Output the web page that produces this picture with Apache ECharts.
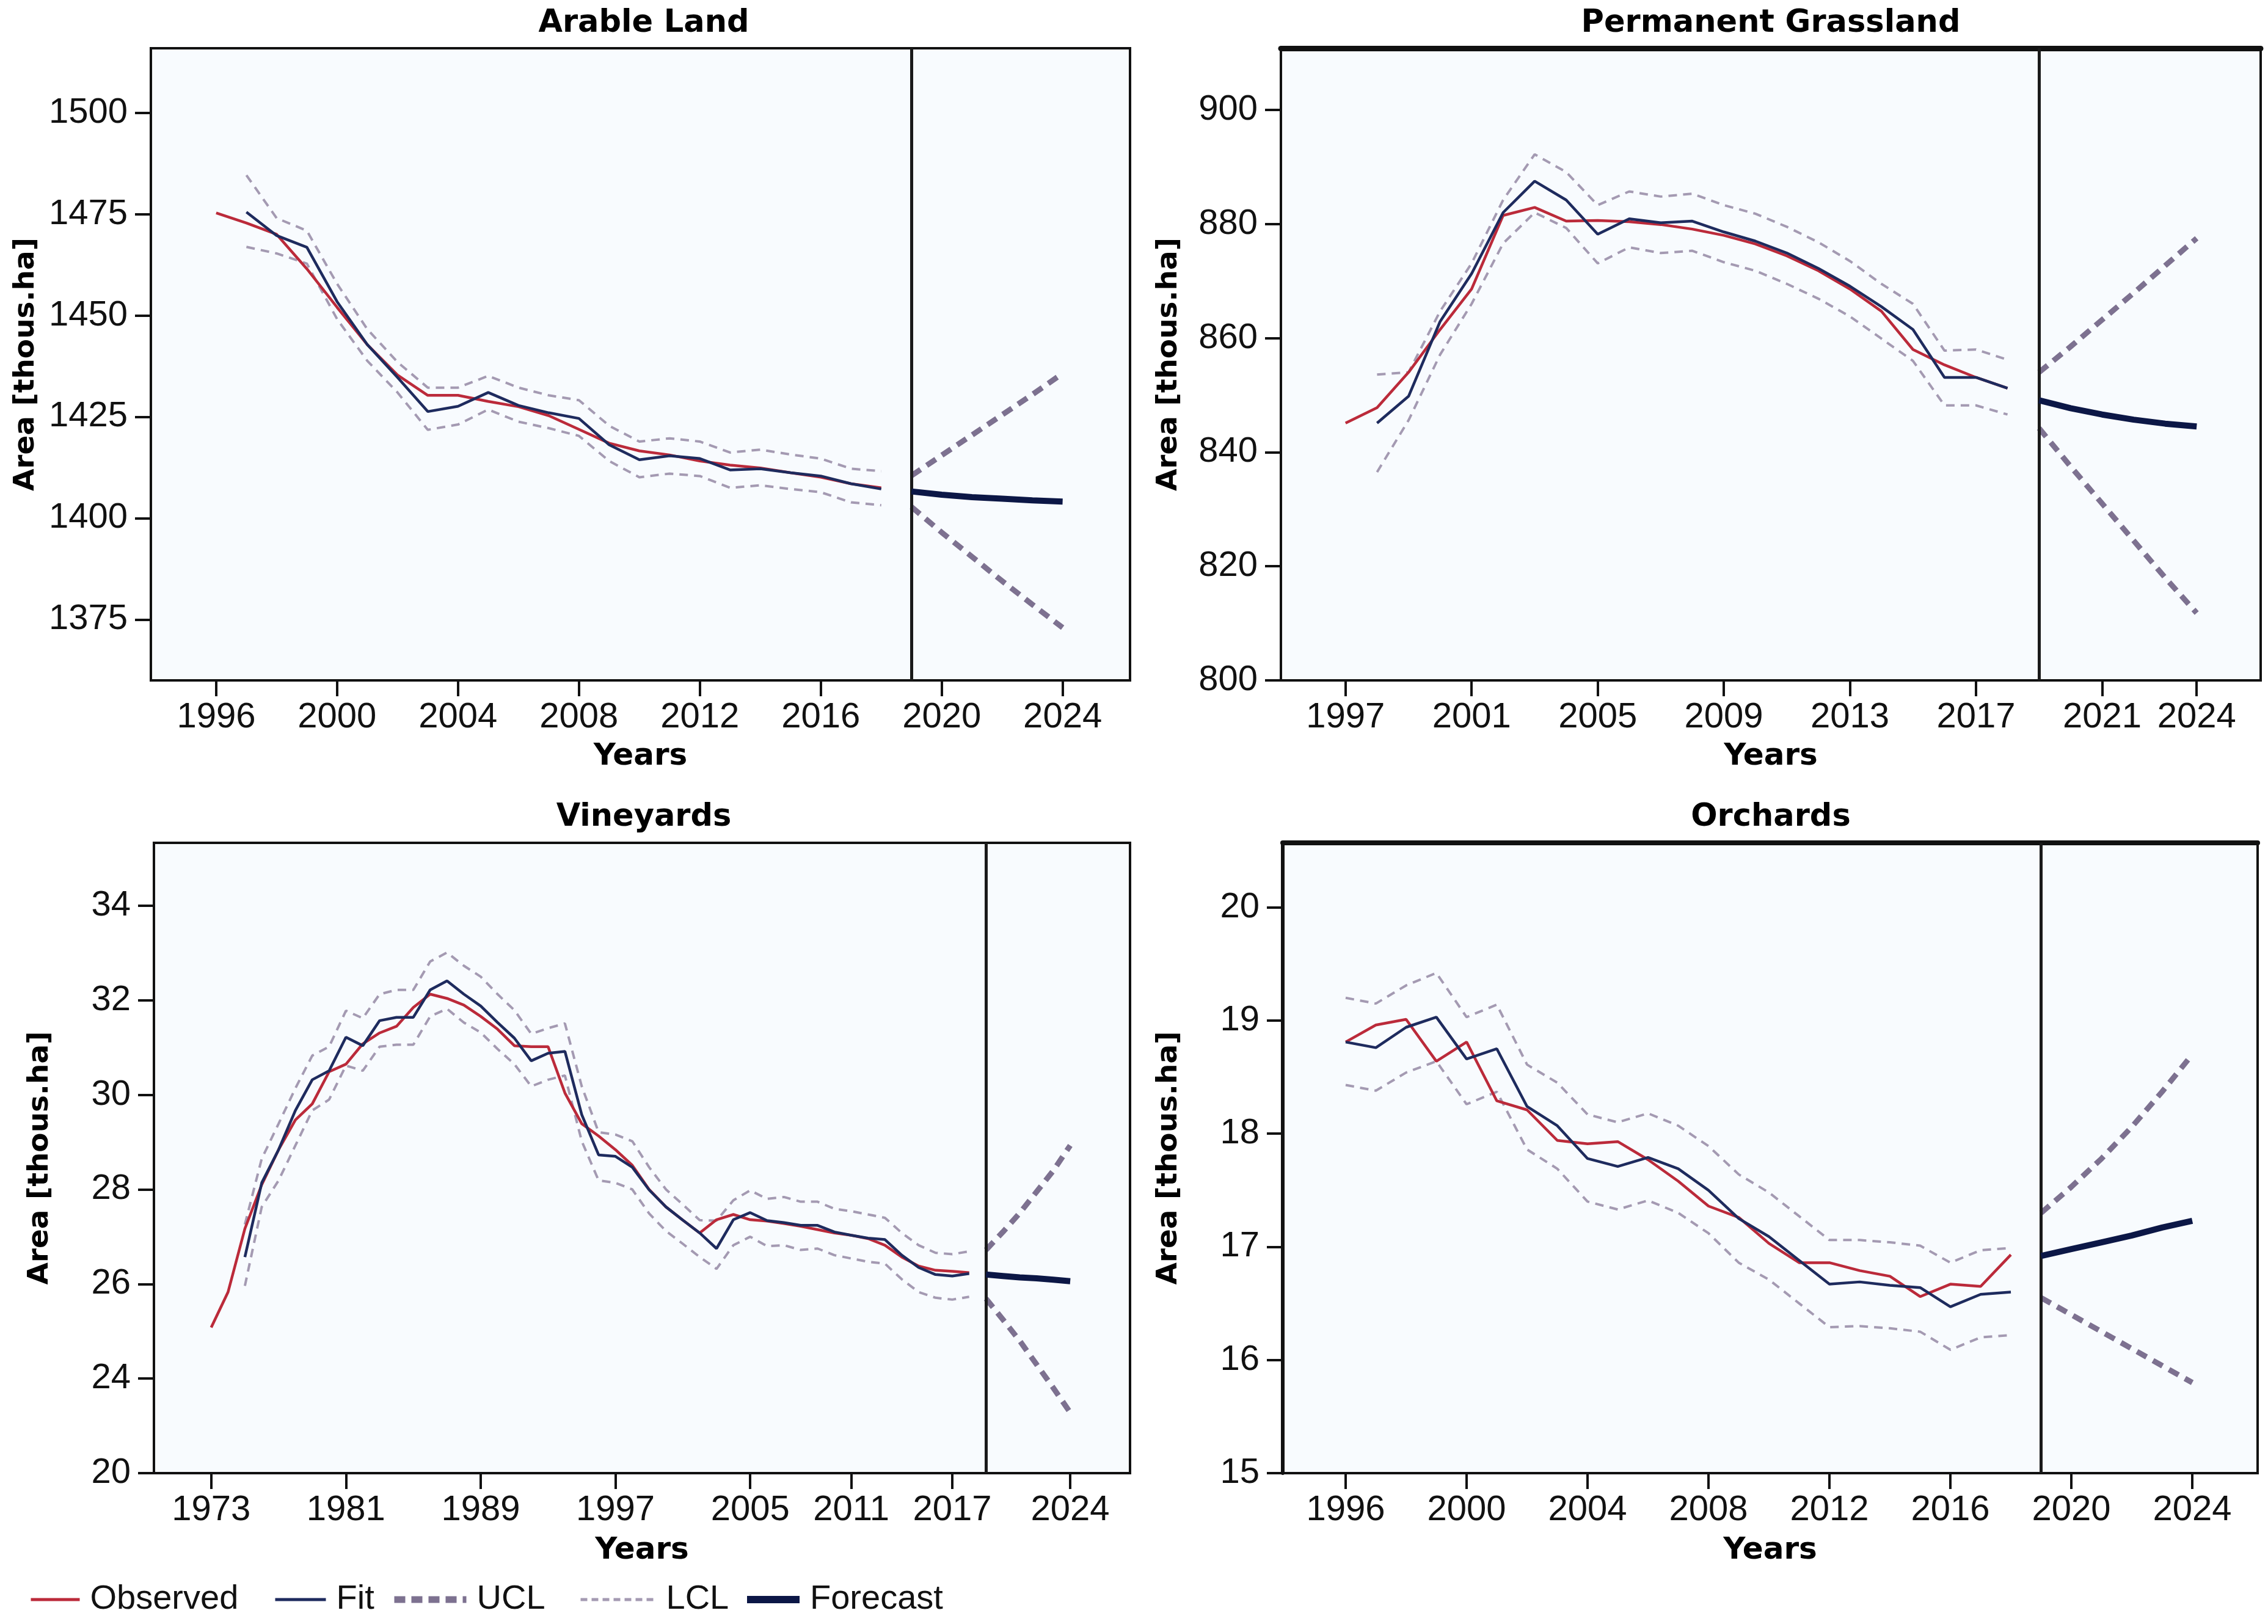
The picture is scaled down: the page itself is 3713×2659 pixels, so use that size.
<!DOCTYPE html>
<html>
<head>
<meta charset="utf-8">
<script src="https://cdn.jsdelivr.net/npm/echarts@6/dist/echarts.min.js"></script>
<style>
html,body{margin:0;padding:0;background:#ffffff;}
#chart{width:3713px;height:2659px;}
</style>
</head>
<body>
<div id="chart"></div>
<script>
// ---------------- DATA ----------------
const forecastYears = [2019, 2020, 2021, 2022, 2023, 2024];
const forecastBoundary = 2019;

// Arable Land
const arableObsStart = 1996;
const arableObserved = [1475.3, 1472.8, 1470.0, 1461.5, 1452.0, 1442.8, 1435.3, 1430.3, 1430.3, 1428.8, 1427.5, 1425.3, 1421.9, 1418.5, 1416.6, 1415.6, 1414.1, 1413.1, 1412.4, 1411.2, 1410.1, 1408.5, 1407.5];
const arableFitStart = 1997;
const arableFit = [1475.5, 1469.7, 1466.8, 1453.4, 1442.8, 1434.7, 1426.3, 1427.6, 1431.0, 1427.8, 1426.0, 1424.6, 1418.1, 1414.4, 1415.4, 1414.7, 1411.9, 1412.2, 1411.2, 1410.4, 1408.5, 1407.2];
const arableUcl = [1484.6, 1474.0, 1470.9, 1457.8, 1446.6, 1438.5, 1432.2, 1432.2, 1435.1, 1432.2, 1430.3, 1429.1, 1422.8, 1418.9, 1419.7, 1418.9, 1416.2, 1416.9, 1415.7, 1414.7, 1412.2, 1411.6];
const arableLcl = [1466.9, 1465.3, 1462.8, 1449.1, 1438.8, 1431.0, 1421.8, 1423.1, 1426.8, 1423.8, 1422.2, 1420.3, 1414.1, 1410.1, 1411.0, 1410.4, 1407.5, 1408.1, 1407.2, 1406.4, 1403.9, 1403.2];
const arableForecast = [1406.6, 1405.8, 1405.2, 1404.8, 1404.4, 1404.1];
const arableForecastUcl = [1410.5, 1415.5, 1420.5, 1425.5, 1430.5, 1435.7];
const arableForecastLcl = [1402.8, 1396.5, 1390.5, 1384.5, 1378.7, 1373.0];
const arableXTicks = [1996, 2000, 2004, 2008, 2012, 2016, 2020, 2024];
const arableYTicks = [1375, 1400, 1425, 1450, 1475, 1500];

// Permanent Grassland
const grassObsStart = 1997;
const grassObserved = [845.1, 847.8, 854.0, 861.5, 868.6, 881.5, 882.9, 880.5, 880.6, 880.4, 879.9, 879.1, 878.0, 876.5, 874.4, 871.8, 868.6, 864.7, 858.0, 855.3, 853.1, 851.2];
const grassFitStart = 1998;
const grassFit = [845.1, 849.8, 862.9, 871.3, 882.0, 887.5, 884.2, 878.2, 880.9, 880.2, 880.5, 878.6, 877.0, 874.9, 872.2, 869.1, 865.5, 861.5, 853.1, 853.1, 851.2];
const grassUcl = [853.6, 854.0, 864.7, 873.1, 884.2, 892.2, 889.1, 883.3, 885.7, 884.8, 885.3, 883.3, 881.8, 879.5, 876.8, 873.5, 869.5, 866.0, 857.8, 858.0, 856.2];
const grassLcl = [836.5, 845.6, 857.1, 866.0, 876.6, 882.0, 879.3, 873.1, 875.9, 874.9, 875.3, 873.3, 871.8, 869.5, 866.9, 863.8, 859.9, 856.0, 848.2, 848.2, 846.6];
const grassForecast = [849.1, 847.7, 846.6, 845.7, 845.0, 844.5];
const grassForecastUcl = [854.0, 858.5, 863.2, 867.9, 872.7, 877.5];
const grassForecastLcl = [844.2, 837.5, 831.0, 824.5, 818.0, 811.8];
const grassXTicks = [1997, 2001, 2005, 2009, 2013, 2017, 2021, 2024];
const grassYTicks = [800, 820, 840, 860, 880, 900];

// Vineyards
const vineObsStart = 1973;
const vineObserved = [25.08, 25.83, 27.17, 28.10, 28.84, 29.47, 29.81, 30.49, 30.65, 31.08, 31.31, 31.45, 31.85, 32.13, 32.04, 31.90, 31.66, 31.39, 31.04, 31.02, 31.02, 30.04, 29.39, 29.13, 28.84, 28.51, 28.00, 27.63, 27.35, 27.08, 27.36, 27.47, 27.36, 27.33, 27.28, 27.22, 27.15, 27.08, 27.03, 26.96, 26.82, 26.57, 26.38, 26.29, 26.27, 26.24];
const vineFitStart = 1975;
const vineFit = [26.57, 28.14, 28.84, 29.67, 30.32, 30.51, 31.22, 31.04, 31.57, 31.64, 31.64, 32.22, 32.41, 32.13, 31.88, 31.53, 31.20, 30.72, 30.88, 30.92, 29.58, 28.73, 28.70, 28.47, 27.99, 27.63, 27.35, 27.08, 26.75, 27.36, 27.51, 27.34, 27.30, 27.24, 27.24, 27.10, 27.03, 26.97, 26.94, 26.61, 26.35, 26.20, 26.17, 26.22];
const vineUcl = [27.26, 28.65, 29.39, 30.14, 30.83, 31.02, 31.78, 31.62, 32.13, 32.22, 32.22, 32.82, 33.01, 32.73, 32.50, 32.13, 31.79, 31.29, 31.41, 31.51, 30.18, 29.21, 29.16, 29.02, 28.47, 28.00, 27.68, 27.35, 27.34, 27.77, 27.98, 27.80, 27.84, 27.74, 27.74, 27.59, 27.54, 27.47, 27.40, 27.08, 26.82, 26.66, 26.63, 26.69];
const vineLcl = [25.96, 27.63, 28.19, 28.93, 29.67, 29.90, 30.62, 30.51, 31.02, 31.06, 31.06, 31.66, 31.82, 31.53, 31.32, 30.97, 30.65, 30.18, 30.32, 30.41, 29.02, 28.19, 28.14, 28.00, 27.49, 27.12, 26.85, 26.57, 26.32, 26.82, 27.00, 26.80, 26.82, 26.72, 26.75, 26.61, 26.54, 26.47, 26.43, 26.10, 25.83, 25.71, 25.67, 25.73];
const vineForecast = [26.20, 26.17, 26.14, 26.12, 26.09, 26.06];
const vineForecastUcl = [26.72, 27.10, 27.50, 27.95, 28.40, 28.93];
const vineForecastLcl = [25.69, 25.25, 24.80, 24.30, 23.80, 23.28];
const vineXTicks = [1973, 1981, 1989, 1997, 2005, 2011, 2017, 2024];
const vineYTicks = [22, 24, 26, 28, 30, 32, 34];
const vineYTickLabels = ['20', '24', '26', '28', '30', '32', '34'];

// Orchards
const orchObsStart = 1996;
const orchObserved = [18.81, 18.96, 19.01, 18.64, 18.81, 18.29, 18.21, 17.94, 17.91, 17.93, 17.77, 17.58, 17.36, 17.26, 17.03, 16.86, 16.86, 16.79, 16.74, 16.56, 16.67, 16.65, 16.93];
const orchFitStart = 1996;
const orchFit = [18.81, 18.76, 18.94, 19.03, 18.66, 18.75, 18.24, 18.07, 17.78, 17.71, 17.79, 17.69, 17.50, 17.25, 17.09, 16.88, 16.67, 16.69, 16.66, 16.64, 16.47, 16.58, 16.60];
const orchUcl = [19.20, 19.15, 19.31, 19.42, 19.03, 19.14, 18.61, 18.45, 18.17, 18.10, 18.18, 18.07, 17.89, 17.64, 17.48, 17.27, 17.06, 17.06, 17.04, 17.01, 16.86, 16.97, 16.99];
const orchLcl = [18.43, 18.38, 18.54, 18.64, 18.26, 18.37, 17.86, 17.69, 17.40, 17.33, 17.41, 17.30, 17.12, 16.86, 16.71, 16.50, 16.29, 16.30, 16.28, 16.25, 16.09, 16.20, 16.22];
const orchForecast = [16.92, 16.98, 17.04, 17.10, 17.17, 17.23];
const orchForecastUcl = [17.30, 17.53, 17.78, 18.06, 18.37, 18.70];
const orchForecastLcl = [16.55, 16.40, 16.25, 16.10, 15.95, 15.80];
const orchXTicks = [1996, 2000, 2004, 2008, 2012, 2016, 2020, 2024];
const orchYTicks = [15, 16, 17, 18, 19, 20];

// ---------------- BUILD ----------------
const COL_OBS = '#bb2a3a';
const COL_FIT = '#1e2b5e';
const COL_BAND = '#a49ab2';
const COL_FBAND = '#7d7190';
const COL_FC = '#0c1746';
const FONT = 'Liberation Sans, Arial, sans-serif';
const BOLD_FONT = 'DejaVu Sans, Verdana, sans-serif';

function pairs(start, vals) { return vals.map((v, i) => [start + i, v]); }
function fpairs(vals) { return vals.map((v, i) => [forecastYears[i], v]); }

const panels = [
  { title: 'Arable Land', grid: {left: 247, top: 79, width: 1603, height: 1035},
    xMin: 1993.84, xMax: 2026.23, yMin: 1360.0, yMax: 1515.9, xTicks: arableXTicks, yTicks: arableYTicks,
    obsStart: arableObsStart, obs: arableObserved, fitStart: arableFitStart, fit: arableFit, ucl: arableUcl, lcl: arableLcl,
    fc: arableForecast, fu: arableForecastUcl, fl: arableForecastLcl, titleX: 1049, titleY: 8, nameGapY: 181, nameGapX: 100,
    topW: 0, leftW: 0 },
  { title: 'Permanent Grassland', grid: {left: 2097, top: 79, width: 1604, height: 1035},
    xMin: 1994.95, xMax: 2026.03, yMin: 800, yMax: 910.8, xTicks: grassXTicks, yTicks: grassYTicks,
    obsStart: grassObsStart, obs: grassObserved, fitStart: grassFitStart, fit: grassFit, ucl: grassUcl, lcl: grassLcl,
    fc: grassForecast, fu: grassForecastUcl, fl: grassForecastLcl, titleX: 2894, titleY: 8, nameGapY: 160, nameGapX: 100,
    topW: 9, leftW: 0 },
  { title: 'Vineyards', grid: {left: 252, top: 1380, width: 1598, height: 1032},
    xMin: 1969.6, xMax: 2027.55, yMin: 22, yMax: 35.33, xTicks: vineXTicks, yTicks: vineYTicks, yLabels: vineYTickLabels,
    obsStart: vineObsStart, obs: vineObserved, fitStart: vineFitStart, fit: vineFit, ucl: vineUcl, lcl: vineLcl,
    fc: vineForecast, fu: vineForecastUcl, fl: vineForecastLcl, titleX: 1049, titleY: 1308, nameGapY: 163, nameGapX: 102,
    topW: 0, leftW: 0 },
  { title: 'Orchards', grid: {left: 2100, top: 1380, width: 1596, height: 1032},
    xMin: 1993.92, xMax: 2026.16, yMin: 15, yMax: 20.57, xTicks: orchXTicks, yTicks: orchYTicks,
    obsStart: orchObsStart, obs: orchObserved, fitStart: orchFitStart, fit: orchFit, ucl: orchUcl, lcl: orchLcl,
    fc: orchForecast, fu: orchForecastUcl, fl: orchForecastLcl, titleX: 2894, titleY: 1308, nameGapY: 163, nameGapX: 102,
    topW: 8, leftW: 6 }
];

const grids = [], xAxes = [], yAxes = [], series = [], titles = [];
panels.forEach((p, i) => {
  grids.push(Object.assign({ show: true, backgroundColor: '#f8fbfe', borderColor: '#111', borderWidth: 4, containLabel: false }, p.grid));
  titles.push({ text: p.title, left: p.titleX, top: p.titleY, textAlign: 'center',
    textStyle: { fontFamily: BOLD_FONT, fontWeight: 'bold', fontSize: 51, color: '#000' } });
  xAxes.push({
    type: 'value', gridIndex: i, min: p.xMin, max: p.xMax,
    name: 'Years', nameLocation: 'middle', nameGap: p.nameGapX,
    nameTextStyle: { fontFamily: BOLD_FONT, fontWeight: 'bold', fontSize: 50, color: '#000' },
    axisLine: { show: true, onZero: false, lineStyle: { color: '#111', width: 4 } },
    axisTick: { show: true, length: 26, inside: false, lineStyle: { color: '#111', width: 4 }, customValues: p.xTicks },
    axisLabel: { show: true, margin: 32, fontFamily: FONT, fontSize: 58, color: '#111', customValues: p.xTicks,
      formatter: v => String(Math.round(v)) },
    splitLine: { show: false }
  });
  yAxes.push({
    type: 'value', gridIndex: i, min: p.yMin, max: p.yMax,
    name: 'Area [thous.ha]', nameLocation: 'middle', nameGap: p.nameGapY, nameRotate: 90,
    nameTextStyle: { fontFamily: BOLD_FONT, fontWeight: 'bold', fontSize: 47, color: '#000' },
    axisLine: { show: true, onZero: false, lineStyle: { color: '#111', width: p.leftW || 4 } },
    axisTick: { show: true, length: 26, inside: false, lineStyle: { color: '#111', width: 4 }, customValues: p.yTicks },
    axisLabel: { show: true, margin: 38, fontFamily: FONT, fontSize: 58, color: '#111', customValues: p.yTicks,
      formatter: v => {
        if (p.yLabels) { const k = p.yTicks.findIndex(t => Math.abs(t - v) < 1e-6); if (k >= 0) return p.yLabels[k]; }
        return String(Math.round(v));
      } },
    splitLine: { show: false }
  });
  const common = { xAxisIndex: i, yAxisIndex: i, symbol: 'none', showSymbol: false, silent: true, animation: false };
  series.push(Object.assign({ type: 'line', name: 'UCL', data: pairs(p.fitStart, p.ucl), z: 2,
    lineStyle: { color: COL_BAND, width: 4, type: [14, 10] } }, common));
  series.push(Object.assign({ type: 'line', name: 'LCL', data: pairs(p.fitStart, p.lcl), z: 2,
    lineStyle: { color: COL_BAND, width: 4, type: [14, 10] } }, common));
  series.push(Object.assign({ type: 'line', name: 'Fit', data: pairs(p.fitStart, p.fit), z: 4,
    lineStyle: { color: COL_FIT, width: 4.5 } }, common));
  series.push(Object.assign({ type: 'line', name: 'Observed', data: pairs(p.obsStart, p.obs), z: 3,
    lineStyle: { color: COL_OBS, width: 4.5 } }, common));
  series.push(Object.assign({ type: 'line', name: 'UCL', data: fpairs(p.fu), z: 2,
    lineStyle: { color: COL_FBAND, width: 9, type: [18, 12] } }, common));
  series.push(Object.assign({ type: 'line', name: 'LCL', data: fpairs(p.fl), z: 2,
    lineStyle: { color: COL_FBAND, width: 9, type: [18, 12] } }, common));
  series.push(Object.assign({ type: 'line', name: 'Forecast', data: fpairs(p.fc), z: 5,
    lineStyle: { color: COL_FC, width: 10 },
    markLine: { silent: true, symbol: ['none', 'none'], label: { show: false },
      lineStyle: { color: '#1a1a1a', width: 5, type: 'solid' }, data: [{ xAxis: forecastBoundary }] } }, common));
});

// heavier top border on some panels (as in the reference)
panels.forEach((p, i) => {
  if (p.topW) {
    xAxes.push({ type: 'value', gridIndex: i, position: 'top', min: p.xMin, max: p.xMax,
      axisLine: { show: true, onZero: false, lineStyle: { color: '#111', width: p.topW } },
      axisTick: { show: false }, axisLabel: { show: false }, splitLine: { show: false } });
  }
});

function legendItem(name, left, width, ls) {
  return {
    left: left, top: 2586, itemWidth: width, itemHeight: 24, selectedMode: false,
    data: [{ name: name, lineStyle: ls, itemStyle: { opacity: 0 } }],
    textStyle: { fontFamily: FONT, fontSize: 56, color: '#111', padding: [0, 0, 0, 12] }
  };
}
const legends = [
  legendItem('Observed', 43, 80, { color: COL_OBS, width: 5, type: 'solid' }),
  legendItem('Fit', 443, 83, { color: COL_FIT, width: 5, type: 'solid' }),
  legendItem('UCL', 635, 118, { color: COL_FBAND, width: 11, type: [18, 10] }),
  legendItem('LCL', 943, 123, { color: COL_BAND, width: 5, type: [11, 7] }),
  legendItem('Forecast', 1212, 86, { color: COL_FC, width: 12, type: 'solid' })
];

const chart = echarts.init(document.getElementById('chart'), null, { renderer: 'canvas' });
chart.setOption({
  backgroundColor: '#ffffff',
  animation: false,
  title: titles,
  legend: legends,
  grid: grids,
  xAxis: xAxes,
  yAxis: yAxes,
  series: series
});
</script>
</body>
</html>
